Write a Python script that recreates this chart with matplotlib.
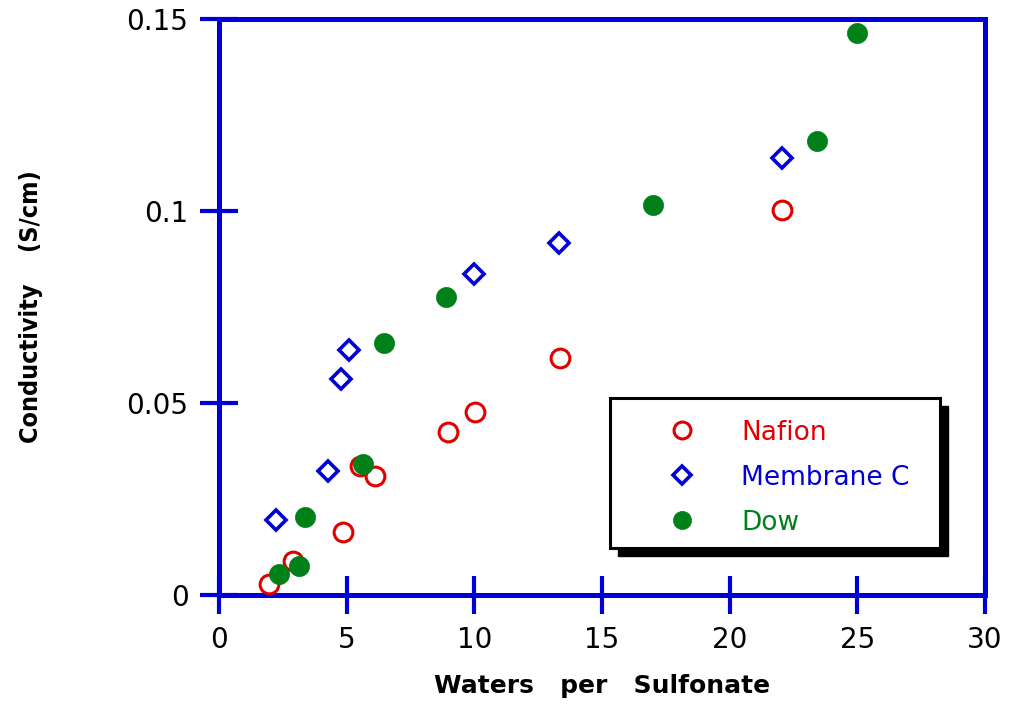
import matplotlib
matplotlib.use("Agg")
import matplotlib.pyplot as plt
from matplotlib.patches import Rectangle

# Data
nafion_x = [1.96, 2.9, 4.85, 5.52, 6.11, 8.97, 10.03, 13.35, 22.05]
nafion_y = [0.0029, 0.0089, 0.0163, 0.0336, 0.0310, 0.0424, 0.0477, 0.0618, 0.1003]

memc_x = [2.23, 4.28, 4.78, 5.09, 10.0, 13.33, 22.04]
memc_y = [0.0195, 0.0323, 0.0562, 0.0638, 0.0836, 0.0917, 0.1137]

dow_x = [2.35, 3.15, 3.38, 5.65, 6.46, 8.88, 17.01, 23.41, 25.0]
dow_y = [0.0055, 0.0076, 0.0202, 0.0341, 0.0656, 0.0777, 0.1016, 0.1183, 0.1464]

series_names = ["Nafion", "Membrane C", "Dow"]
xticks = [0, 5, 10, 15, 20, 25, 30]
yticks = [0, 0.05, 0.1, 0.15]
ytick_labels = ["0", "0.05", "0.1", "0.15"]

RED = "#e00000"
BLUE = "#0000d4"
GREEN = "#008018"

fig = plt.figure(figsize=(10.11, 7.05), dpi=100)
ax = fig.add_axes([0.2166, 0.156, 0.7577, 0.817])

ax.plot(nafion_x, nafion_y, linestyle="none", marker="o", markersize=13.5,
        markerfacecolor="none", markeredgecolor=RED, markeredgewidth=2.2,
        label=series_names[0], zorder=3)
ax.plot(memc_x, memc_y, linestyle="none", marker="D", markersize=10,
        markerfacecolor="none", markeredgecolor=BLUE, markeredgewidth=2.6,
        label=series_names[1], zorder=3)
ax.plot(dow_x, dow_y, linestyle="none", marker="o", markersize=14.5,
        markerfacecolor=GREEN, markeredgecolor=GREEN, markeredgewidth=0.5,
        label=series_names[2], zorder=4)

ax.set_xlim(0, 30)
ax.set_ylim(0, 0.15)
ax.set_xticks(xticks)
ax.set_xticklabels([str(t) for t in xticks])
ax.set_yticks(yticks)
ax.set_yticklabels(ytick_labels)

for s in ax.spines.values():
    s.set_color(BLUE)
    s.set_linewidth(3.6)

ax.tick_params(axis="both", which="both", direction="inout", length=28,
               width=3, color=BLUE, labelsize=20, pad=8, top=False, right=False)

ax.set_xlabel("Waters   per   Sulfonate", fontsize=18, fontweight="bold",
              family="DejaVu Sans", labelpad=15)
ax.set_ylabel("Conductivity    (S/cm)", fontsize=18, fontweight="bold",
              fontstretch="condensed", family="DejaVu Sans", labelpad=60)

# legend box with solid black shadow
bx0, by0, bw, bh = 0.510, 0.0816, 0.431, 0.2604
dx = 8 / (0.7577 * 1011)
dy = 8 / (0.817 * 705)
ax.add_patch(Rectangle((bx0 + dx, by0 - dy), bw, bh, transform=ax.transAxes,
                       facecolor="black", edgecolor="black", zorder=5,
                       clip_on=False))
ax.add_patch(Rectangle((bx0, by0), bw, bh, transform=ax.transAxes,
                       facecolor="white", edgecolor="black", linewidth=2.2,
                       zorder=6, clip_on=False))

leg = ax.legend(loc="center left", bbox_to_anchor=(bx0 + 0.060, by0 + bh / 2 - 0.008),
                frameon=False, fontsize=19, labelcolor=[RED, BLUE, GREEN],
                handlelength=1.0, handletextpad=1.75, labelspacing=0.72,
                borderpad=0, markerscale=0.9)
leg.set_zorder(7)

fig.savefig("out.png", dpi=100)
